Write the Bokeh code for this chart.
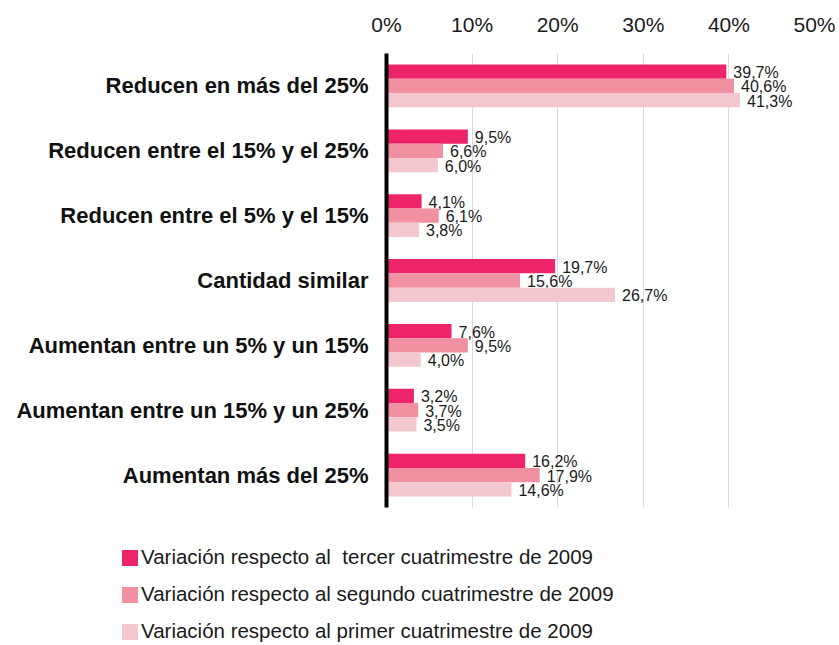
from bokeh.plotting import figure
from bokeh.layouts import column
from bokeh.models import (ColumnDataSource, FactorRange, FixedTicker,
                          PrintfTickFormatter, Div)
from bokeh.transform import dodge
from bokeh.core.properties import value
from bokeh.embed import file_html
from bokeh.resources import INLINE

categories = [
    "Reducen en más del 25%",
    "Reducen entre el 15% y el 25%",
    "Reducen entre el 5% y el 15%",
    "Cantidad similar",
    "Aumentan entre un 5% y un 15%",
    "Aumentan entre un 15% y un 25%",
    "Aumentan más del 25%",
]
tercer = [39.7, 9.5, 4.1, 19.7, 7.6, 3.2, 16.2]
segundo = [40.6, 6.6, 6.1, 15.6, 9.5, 3.7, 17.9]
primero = [41.3, 6.0, 3.8, 26.7, 4.0, 3.5, 14.6]
series_names = [
    "Variación respecto al  tercer cuatrimestre de 2009",
    "Variación respecto al segundo cuatrimestre de 2009",
    "Variación respecto al primer cuatrimestre de 2009",
]
x_ticks = [0, 10, 20, 30, 40, 50]

colors = ["#EE246A", "#F090A0", "#F2C8CE"]
offsets = [0.22, 0.0, -0.22]
FONT = "Liberation Sans"
W = 839

p = figure(width=W, height=515, output_backend="svg", toolbar_location=None,
           y_range=FactorRange(factors=list(reversed(categories))),
           x_range=(0, 50), x_axis_location="above",
           min_border_left=386, min_border_right=W - 814,
           min_border_top=53, min_border_bottom=8)

p.outline_line_color = None
p.ygrid.grid_line_color = None
p.xgrid.grid_line_color = "#DADADA"
p.xgrid.grid_line_width = 1

p.xaxis.ticker = FixedTicker(ticks=x_ticks)
p.xaxis.formatter = PrintfTickFormatter(format="%d%%")
p.xaxis.axis_line_color = None
p.xaxis.major_tick_line_color = None
p.xaxis.minor_tick_line_color = None
p.xaxis.major_label_text_font = FONT
p.xaxis.major_label_text_font_size = "21px"
p.xaxis.major_label_text_color = "#1a1a1a"
p.xaxis.major_label_standoff = 12

p.yaxis.axis_line_color = "black"
p.yaxis.axis_line_width = 4
p.yaxis.major_tick_line_color = None
p.yaxis.minor_tick_line_color = None
p.yaxis.major_label_text_font = FONT
p.yaxis.major_label_text_font_style = "bold"
p.yaxis.major_label_text_font_size = "22px"
p.yaxis.major_label_text_color = "#111111"
p.yaxis.major_label_standoff = 12

for vals, col, off in zip([tercer, segundo, primero], colors, offsets):
    src = ColumnDataSource(dict(
        cat=categories, v=vals,
        lab=[f"{v:.1f}".replace(".", ",") + "%" for v in vals]))
    p.hbar(y=dodge("cat", off, range=p.y_range), right="v", left=0,
           height=0.22, source=src, fill_color=col, line_color=None)
    p.text(x="v", y=dodge("cat", off, range=p.y_range), text="lab", source=src,
           x_offset=7, y_offset=1, text_baseline="middle", text_align="left",
           text_font=value(FONT), text_font_size="16px", text_color="#1a1a1a")

# legend below the chart (HTML, not clipped by the plot frame)
rows = "".join(
    f'<div style="height:37px;display:flex;align-items:center;white-space:pre;">'
    f'<span style="display:inline-block;width:16px;height:16px;background:{col};'
    f'margin-right:3px;"></span>{name}</div>'
    for name, col in zip(series_names, colors))
legend_div = Div(
    text=(f'<div style="font-family:\'{FONT}\';font-size:20.5px;color:#1a1a1a;'
          f'padding-left:117px;padding-top:19px;line-height:1;">{rows}</div>'),
    width=W, height=130)

open("out.html", "w").write(file_html(column(p, legend_div, spacing=0), INLINE))
